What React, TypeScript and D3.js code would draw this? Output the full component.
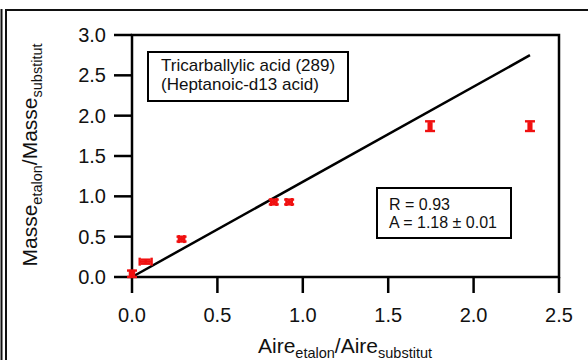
import React from "react";
import * as d3 from "d3";

const xValues = [0.0, 0.08, 0.29, 0.83, 0.92, 1.745, 2.33];
const yValues = [0.04, 0.19, 0.47, 0.93, 0.93, 1.87, 1.87];
const xErrors = [0.012, 0.035, 0.016, 0.016, 0.016, 0.008, 0.008];
const yErrors = [0.04, 0.025, 0.03, 0.03, 0.03, 0.06, 0.06];
const fitSlope = 1.18;
const fitRange = [0, 2.33];
const xTicks = [0, 0.5, 1.0, 1.5, 2.0, 2.5];
const yTicks = [0, 0.5, 1.0, 1.5, 2.0, 2.5, 3.0];
const legendLines = ["Tricarballylic acid (289)", "(Heptanoic-d13 acid)"];
const statLines = ["R = 0.93", "A = 1.18 \u00b1 0.01"];

const W = 588;
const H = 360;
const FONT = "'Liberation Sans', Arial, sans-serif";

export default function App() {
  const x = d3.scaleLinear().domain([0, 2.5]).range([132, 559]);
  const y = d3.scaleLinear().domain([0, 3]).range([277, 35]);
  const fmt = d3.format(".1f");
  const line = d3
    .line<number>()
    .x((d) => x(d))
    .y((d) => y(d * fitSlope));
  const red = "#f01010";
  const axisW = 2.5;

  return (
    <svg
      width={W}
      height={H}
      style={{ position: "absolute", left: 0, top: 0, background: "#fff" }}
      fontFamily={FONT}
    >
      {/* outer frame */}
      <line x1={1.5} x2={1.5} y1={9} y2={H} stroke="#111" strokeWidth={2} />
      <line x1={6} x2={6} y1={9} y2={H} stroke="#111" strokeWidth={2} />
      <line x1={5} x2={W} y1={10} y2={10} stroke="#111" strokeWidth={2} />

      {/* plot frame */}
      <rect
        x={x(0)}
        y={y(3)}
        width={x(2.5) - x(0)}
        height={y(0) - y(3)}
        fill="none"
        stroke="#000"
        strokeWidth={axisW}
      />
      {yTicks.map((t) => (
        <g key={"y" + t}>
          <line x1={114} x2={x(0)} y1={y(t)} y2={y(t)} stroke="#000" strokeWidth={axisW} />
          <text x={106} y={y(t)} dy="0.35em" textAnchor="end" fontSize={20} fill="#111">
            {fmt(t)}
          </text>
        </g>
      ))}
      {xTicks.map((t) => (
        <g key={"x" + t}>
          <line x1={x(t)} x2={x(t)} y1={y(0)} y2={293} stroke="#000" strokeWidth={axisW} />
          <text x={x(t)} y={322} textAnchor="middle" fontSize={20} fill="#111">
            {fmt(t)}
          </text>
        </g>
      ))}

      {/* fit line */}
      <path d={line(fitRange) || ""} stroke="#000" strokeWidth={2.5} fill="none" />

      {/* data with error bars */}
      {xValues.map((xv, i) => {
        const cx = x(xv);
        const cy = y(yValues[i]);
        const x0 = x(xv - xErrors[i]);
        const x1 = x(xv + xErrors[i]);
        const y0 = y(yValues[i] - yErrors[i]);
        const y1 = y(yValues[i] + yErrors[i]);
        return (
          <g key={"p" + i} stroke={red} strokeWidth={2.4}>
            <line x1={x0} x2={x1} y1={cy} y2={cy} />
            <line x1={x0} x2={x0} y1={cy - 4} y2={cy + 4} />
            <line x1={x1} x2={x1} y1={cy - 4} y2={cy + 4} />
            <line x1={cx} x2={cx} y1={y0} y2={y1} />
            <line x1={cx - 5} x2={cx + 5} y1={y0} y2={y0} />
            <line x1={cx - 5} x2={cx + 5} y1={y1} y2={y1} />
          </g>
        );
      })}

      {/* legend box 1 */}
      <rect x={148} y={52} width={200} height={49} fill="#fff" stroke="#000" strokeWidth={2} />
      {legendLines.map((s, i) => (
        <text key={s} x={161} y={71 + i * 19} fontSize={17} fill="#111">
          {s}
        </text>
      ))}

      {/* legend box 2 */}
      <rect x={377} y={188} width={134} height={50} fill="#fff" stroke="#000" strokeWidth={2} />
      {statLines.map((s, i) => (
        <text key={s} x={389} y={210 + i * 18} fontSize={16} fill="#111">
          {s}
        </text>
      ))}

      {/* axis titles */}
      <text transform="translate(37,155) rotate(-90)" textAnchor="middle" fontSize={21} fill="#111">
        Masse
        <tspan fontSize={14.5} dy={5}>etalon</tspan>
        <tspan dy={-5}>/Masse</tspan>
        <tspan fontSize={14.5} dy={5}>substitut</tspan>
      </text>
      <text x={345} y={353} textAnchor="middle" fontSize={21} fill="#111">
        Aire
        <tspan fontSize={14.5} dy={5}>etalon</tspan>
        <tspan dy={-5}>/Aire</tspan>
        <tspan fontSize={14.5} dy={5}>substitut</tspan>
      </text>
    </svg>
  );
}
